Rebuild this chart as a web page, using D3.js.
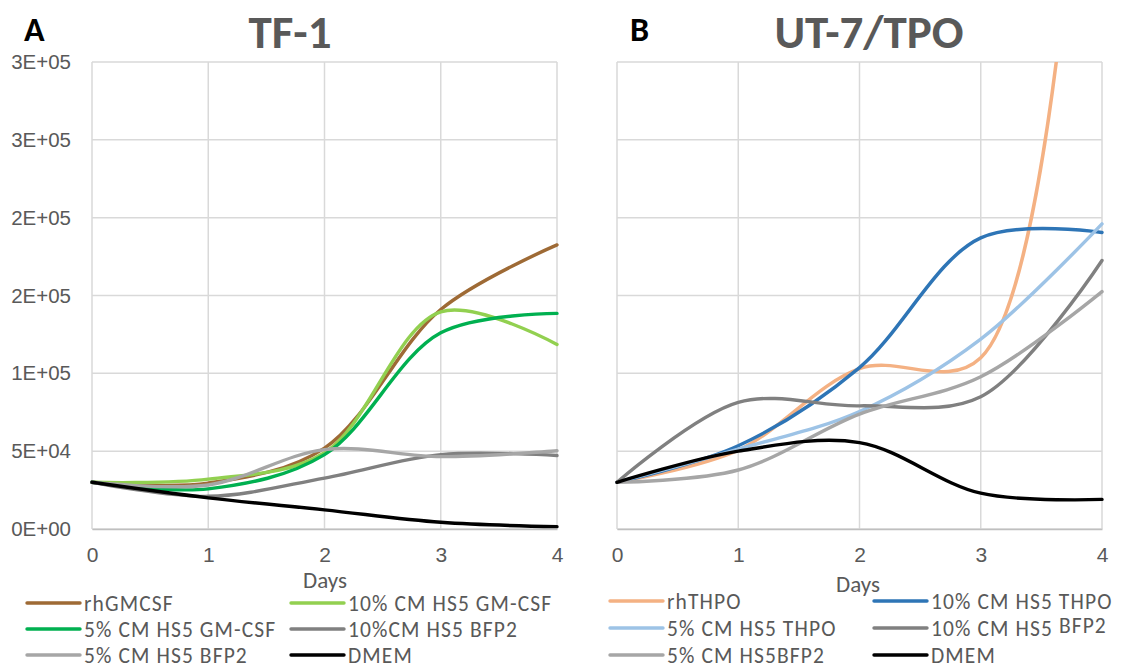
<!DOCTYPE html>
<html>
<head>
<meta charset="utf-8">
<script src="https://cdn.jsdelivr.net/npm/d3@7"></script>
<style>
  html, body { margin: 0; padding: 0; background: #fff; }
  svg { display: block; font-family: Carlito, Lato, "Open Sans", sans-serif; }
</style>
</head>
<body>
<svg id="chart" width="1139" height="668"></svg>
<script>
// Days of culture (x values shared by both panels)
const days = [0, 1, 2, 3, 4];

// Y axis ticks and their printed labels (scientific format, no decimals)
const yTicks = [0, 50000, 100000, 150000, 200000, 250000, 300000];
const yTickLabels = ["0E+00", "5E+04", "1E+05", "2E+05", "2E+05", "3E+05", "3E+05"];

// Panel A: TF-1 cell counts
const tf1Names = ["rhGMCSF", "10% CM HS5 GM-CSF", "5% CM HS5 GM-CSF", "10%CM HS5 BFP2", "5% CM HS5 BFP2", "DMEM"];
const tf1Colors = ["#9e6a35", "#92d050", "#00b050", "#808080", "#a6a6a6", "#000000"];
const tf1_rhGMCSF   = [30000, 29500, 52000, 141000, 182500];
const tf1_cm10GMCSF = [30000, 32000, 49000, 139500, 118500];
const tf1_cm5GMCSF  = [30000, 25800, 47800, 126000, 138500];
const tf1_cm10BFP2  = [30000, 21000, 32700, 47800, 47200];
const tf1_cm5BFP2   = [30000, 28300, 51000, 46500, 50300];
const tf1_DMEM      = [30000, 20000, 12300, 4300, 1500];

// Panel B: UT-7/TPO cell counts
const ut7Names = ["rhTHPO", "10% CM HS5 THPO", "5% CM HS5 THPO", "10% CM HS5 BFP2", "5% CM HS5BFP2", "DMEM"];
const ut7Colors = ["#f4b183", "#2e75b6", "#9dc3e6", "#808080", "#a6a6a6", "#000000"];
const ut7_rhTHPO    = [30000, 50700, 103000, 110000, 680000];
const ut7_cm10THPO  = [30000, 53500, 103700, 187000, 190500];
const ut7_cm5THPO   = [30000, 51300, 75500, 122000, 196000];
const ut7_cm10BFP2  = [30000, 81300, 79100, 85000, 172500];
const ut7_cm5BFP2   = [30000, 37900, 73800, 97800, 152500];
const ut7_DMEM      = [30000, 50000, 55500, 23000, 19000];

const tf1Series = [tf1_rhGMCSF, tf1_cm10GMCSF, tf1_cm5GMCSF, tf1_cm10BFP2, tf1_cm5BFP2, tf1_DMEM];
const ut7Series = [ut7_rhTHPO, ut7_cm10THPO, ut7_cm5THPO, ut7_cm10BFP2, ut7_cm5BFP2, ut7_DMEM];

const svg = d3.select("#chart");
const textGray = "#595959";
const gridColor = "#d9d9d9";

function drawPanel(opts) {
  const x = d3.scaleLinear().domain([0, 4]).range([opts.left, opts.right]);
  const y = d3.scaleLinear().domain([0, 300000]).range([529, 62]);
  const g = svg.append("g");

  // grid
  g.selectAll("line.h").data(yTicks).join("line")
    .attr("x1", opts.left).attr("x2", opts.right)
    .attr("y1", d => y(d)).attr("y2", d => y(d))
    .attr("stroke", gridColor).attr("stroke-width", 1.5);
  g.selectAll("line.v").data(days).join("line")
    .attr("x1", d => x(d)).attr("x2", d => x(d))
    .attr("y1", y(0)).attr("y2", y(300000))
    .attr("stroke", gridColor).attr("stroke-width", 1.5);

  // x axis labels
  const xAxis = d3.axisBottom(x).tickValues(days).tickFormat(d3.format("d")).tickSize(0).tickPadding(18);
  const xg = g.append("g").attr("transform", `translate(0,${y(0)})`).call(xAxis);
  xg.select(".domain").attr("stroke", "#bfbfbf").attr("stroke-width", 1.5);
  xg.selectAll("text").attr("fill", textGray).attr("font-size", 21).attr("font-family", null);

  if (opts.yLabels) {
    const yAxis = d3.axisLeft(y).tickValues(yTicks).tickFormat((d, i) => yTickLabels[i]).tickSize(0).tickPadding(21);
    const yg = g.append("g").attr("transform", `translate(${opts.left},0)`).call(yAxis);
    yg.select(".domain").remove();
    yg.selectAll("text").attr("fill", textGray).attr("font-size", 20.5).attr("font-family", null);
  }

  g.append("text").attr("x", opts.daysX).attr("y", opts.daysY)
    .attr("text-anchor", "middle").attr("fill", textGray).attr("font-size", 23).text("Days");

  // clip lines to plot area
  const clipId = "clip-" + opts.id;
  svg.append("clipPath").attr("id", clipId).append("rect")
    .attr("x", opts.left - 4).attr("y", y(300000))
    .attr("width", opts.right - opts.left + 8).attr("height", y(0) - y(300000) + 4);

  const line = d3.line()
    .x((d, i) => x(days[i]))
    .y(d => y(d))
    .curve(d3.curveCatmullRom.alpha(0.5));

  g.append("g").attr("clip-path", `url(#${clipId})`)
    .selectAll("path").data(opts.series).join("path")
    .attr("d", d => line(d))
    .attr("fill", "none")
    .attr("stroke", (d, i) => opts.colors[i])
    .attr("stroke-width", 3.4)
    .attr("stroke-linecap", "round");

  // titles
  g.append("text").attr("x", opts.letterX).attr("y", 41)
    .attr("font-size", 34).attr("font-weight", "bold").attr("fill", "#000").text(opts.letter);
  g.append("text").attr("x", opts.titleX).attr("y", 48).attr("text-anchor", "middle")
    .attr("font-size", 47).attr("font-weight", "bold").attr("fill", textGray).text(opts.title);

  // legend: two columns, three rows
  const lg = g.append("g");
  opts.names.forEach((name, i) => {
    const col = i % 2, row = Math.floor(i / 2);
    const lx = opts.legCols[col];
    const ly = opts.legRows[row];
    lg.append("line").attr("x1", lx).attr("x2", lx + 53).attr("y1", ly).attr("y2", ly)
      .attr("stroke", opts.colors[i]).attr("stroke-width", 3.4).attr("stroke-linecap", "round");
    const t = lg.append("text").attr("x", lx + 57).attr("y", ly).attr("dy", "0.35em")
      .attr("fill", textGray).attr("font-size", 21.5).attr("letter-spacing", 1.1);
    if (opts.raised && opts.raised[i]) {
      const parts = opts.raised[i];
      t.append("tspan").text(parts[0]);
      t.append("tspan").attr("dy", -3).text(parts[1]);
    } else {
      t.text(name);
    }
  });
}

drawPanel({
  id: "a", left: 92, right: 557, yLabels: true,
  series: tf1Series, colors: tf1Colors, names: tf1Names,
  daysX: 325, daysY: 588, letter: "A", letterX: 24, title: "TF-1", titleX: 290,
  legCols: [27, 291], legRows: [603, 629, 655]
});

drawPanel({
  id: "b", left: 617, right: 1102, yLabels: false,
  series: ut7Series, colors: ut7Colors, names: ut7Names,
  daysX: 858, daysY: 592, letter: "B", letterX: 630, title: "UT-7/TPO", titleX: 869,
  legCols: [610, 874], legRows: [601, 628, 655],
  raised: { 3: ["10% CM HS5 ", "BFP2"] }
});
</script>
</body>
</html>
